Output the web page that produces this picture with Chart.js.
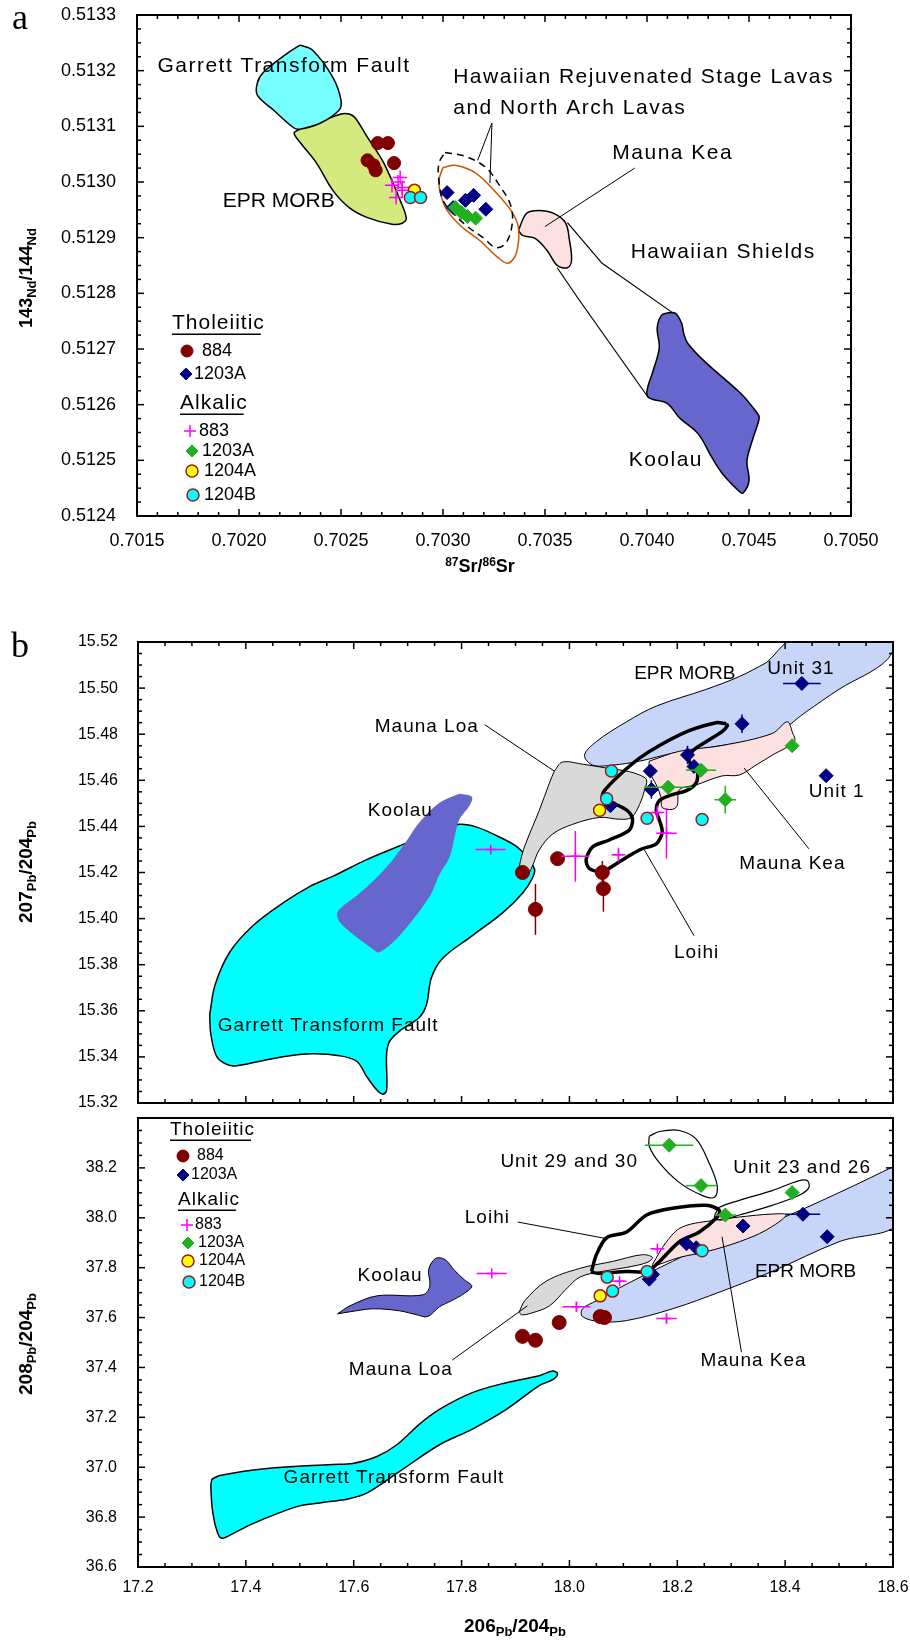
<!DOCTYPE html>
<html>
<head>
<meta charset="utf-8">
<script src="https://cdn.jsdelivr.net/npm/chart.js@4.4.1/dist/chart.umd.min.js"></script>
<style>
  body { margin: 0; background: #fff; }
  #wrap { position: relative; width: 910px; height: 1640px; font-family: 'Liberation Sans', Arial, sans-serif; }
  canvas { position: absolute; left: 0; }
  .pl { position: absolute; font-family: 'Liberation Serif', serif; font-size: 36px; line-height: 36px; }
  .ttl { position: absolute; font-weight: bold; font-size: 18px; white-space: nowrap; transform: translate(-50%, -50%); }
  .ttl.v { transform: translate(-50%, -50%) rotate(-90deg); }
  .ttl .lo { font-size: 13px; position: relative; top: 4px; }
  .ttl .hi { font-size: 12px; position: relative; top: -6px; }
</style>
</head>
<body>
<div id="wrap">
  <canvas id="cA" width="910" height="580" style="top:0"></canvas>
  <canvas id="cB1" width="910" height="511" style="top:600px"></canvas>
  <canvas id="cB2" width="910" height="530" style="top:1110px"></canvas>
  <div class="pl" style="left:12px;top:-1px">a</div>
  <div class="pl" style="left:11px;top:627px">b</div>
  <div class="ttl v" style="left:26px;top:278px">143<span class="lo">Nd</span>/144<span class="lo">Nd</span></div>
  <div class="ttl" style="left:480px;top:566px"><span class="hi">87</span>Sr/<span class="hi">86</span>Sr</div>
  <div class="ttl v" style="left:26px;top:872px;font-size:19px">207<span class="lo">Pb</span>/204<span class="lo">Pb</span></div>
  <div class="ttl v" style="left:26px;top:1344px;font-size:19px">208<span class="lo">Pb</span>/204<span class="lo">Pb</span></div>
  <div class="ttl" style="left:515px;top:1626px;font-size:19px">206<span class="lo">Pb</span>/204<span class="lo">Pb</span></div>
</div>
<script>
// ---------- panel a : 143Nd/144Nd vs 87Sr/86Sr ----------
const aEpr = [[0.70230,0.513095],[0.70250,0.513122],[0.70254,0.513122],[0.70257,0.513115],[0.70263,0.513080],[0.70271,0.513034],[0.70279,0.512967],[0.70282,0.512935],[0.70280,0.512926],[0.70275,0.512924],[0.70263,0.512936],[0.70254,0.512954],[0.70246,0.512985],[0.70238,0.513034],[0.70230,0.513071],[0.70227,0.513088]];
const aGarrett = [[0.70230,0.513246],[0.70236,0.513237],[0.70246,0.513188],[0.70250,0.513147],[0.70249,0.513129],[0.70240,0.513106],[0.70230,0.513095],[0.70227,0.513097],[0.70217,0.513129],[0.70209,0.513156],[0.70209,0.513178],[0.70212,0.513197],[0.70224,0.513232]];
const aRejuv = [[0.70300,0.513026],[0.70306,0.513030],[0.70316,0.513016],[0.70326,0.512981],[0.70334,0.512945],[0.70337,0.512917],[0.70336,0.512873],[0.70332,0.512854],[0.70327,0.512864],[0.70318,0.512895],[0.70309,0.512920],[0.70302,0.512949],[0.70299,0.512976],[0.70298,0.513003]];
const aNorthArch = [[0.70301,0.513053],[0.70311,0.513046],[0.70321,0.513026],[0.70328,0.512992],[0.70333,0.512960],[0.70334,0.512927],[0.70331,0.512891],[0.70326,0.512882],[0.70320,0.512899],[0.70312,0.512920],[0.70305,0.512944],[0.70300,0.512967],[0.70298,0.513003],[0.70298,0.513034]];
const aMaunaKea = [[0.70337,0.512913],[0.70341,0.512944],[0.70347,0.512949],[0.70354,0.512944],[0.70360,0.512927],[0.70362,0.512895],[0.70363,0.512859],[0.70361,0.512846],[0.70356,0.512850],[0.70351,0.512877],[0.70345,0.512899],[0.70339,0.512904]];
const aShieldR = [[0.70361,0.512927],[0.70378,0.512854],[0.70413,0.512764]];
const aShieldL = [[0.70356,0.512846],[0.70366,0.512792],[0.70400,0.512616]];
const aKoolau = [[0.70410,0.512765],[0.70414,0.512764],[0.70417,0.512746],[0.70418,0.512728],[0.70420,0.512710],[0.70429,0.512675],[0.70446,0.512620],[0.70454,0.512585],[0.70455,0.512576],[0.70452,0.512540],[0.70449,0.512499],[0.70450,0.512463],[0.70447,0.512441],[0.70445,0.512445],[0.70437,0.512476],[0.70432,0.512504],[0.70425,0.512548],[0.70416,0.512576],[0.70410,0.512602],[0.70401,0.512612],[0.70400,0.512625],[0.70403,0.512661],[0.70406,0.512702],[0.70405,0.512738],[0.70407,0.512760]];
const aLeadRejuv1 = [[0.70324,0.513106],[0.70317,0.513039]];
const aLeadRejuv2 = [[0.70324,0.513106],[0.70323,0.512998]];
const aLeadKea = [[0.70394,0.513025],[0.70350,0.512920]];

const a884 = [[0.70263,0.513039],[0.70266,0.513030],[0.70267,0.513021],[0.70276,0.513034],[0.70268,0.513070],[0.70273,0.513070]];
const a884Err = [[0,0],[0,0],[0,0],[0,0],[0,0],[0,0.000008]];
const a1203T = [[0.70302,0.512981],[0.70305,0.512954],[0.70311,0.512967],[0.70315,0.512976],[0.70321,0.512951]];
const a883 = [[0.70275,0.512994],[0.70278,0.513000],[0.70280,0.512990],[0.70279,0.513008],[0.70277,0.512972],[0.70280,0.512985]];
const a1203Alk = [[0.70306,0.512954],[0.70309,0.512945],[0.70312,0.512938],[0.70316,0.512935]];
const a1204A = [[0.70286,0.512985]];
const a1204B = [[0.70284,0.512972],[0.70289,0.512972]];

const aNotes = [['Garrett Transform Fault',0.70160,0.513208],['EPR MORB',0.70192,0.512965],['Hawaiian Rejuvenated Stage Lavas',0.70305,0.513188],['and North Arch Lavas',0.70305,0.513133],['Mauna Kea',0.70383,0.513052],['Hawaiian Shields',0.70392,0.512873],['Koolau',0.70391,0.512501]];

// ---------- panel b, upper : 207Pb/204Pb vs 206Pb/204Pb ----------
const bGarrettU = [[17.333,15.3585],[17.343,15.3713],[17.370,15.3854],[17.413,15.3969],[17.469,15.4068],[17.519,15.4140],[17.561,15.4183],[17.624,15.4256],[17.694,15.4324],[17.759,15.4384],[17.796,15.4409],[17.828,15.4397],[17.870,15.4354],[17.907,15.4303],[17.935,15.4217],[17.931,15.4174],[17.913,15.4110],[17.876,15.4025],[17.820,15.3926],[17.765,15.3828],[17.744,15.3743],[17.735,15.3627],[17.722,15.3572],[17.685,15.3512],[17.667,15.3469],[17.661,15.3414],[17.661,15.3256],[17.654,15.3238],[17.643,15.3256],[17.624,15.3315],[17.606,15.3380],[17.574,15.3405],[17.524,15.3414],[17.469,15.3401],[17.383,15.3362],[17.365,15.3367],[17.346,15.3401],[17.335,15.3499]];
const bKoolauU = [[17.796,15.4542],[17.819,15.4529],[17.815,15.4491],[17.796,15.4431],[17.787,15.4354],[17.778,15.4268],[17.759,15.4191],[17.741,15.4097],[17.685,15.3926],[17.648,15.3854],[17.639,15.3862],[17.580,15.3969],[17.569,15.4012],[17.574,15.4042],[17.611,15.4110],[17.657,15.4213],[17.694,15.4324],[17.722,15.4418],[17.759,15.4503]];
const bLoaU = [[17.972,15.4640],[17.987,15.4679],[18.024,15.4670],[18.069,15.4653],[18.106,15.4640],[18.130,15.4623],[18.143,15.4602],[18.139,15.4555],[18.130,15.4495],[18.115,15.4439],[18.093,15.4431],[18.056,15.4439],[18.006,15.4409],[17.969,15.4367],[17.944,15.4298],[17.931,15.4226],[17.920,15.4183],[17.907,15.4191],[17.911,15.4268],[17.920,15.4332],[17.944,15.4469],[17.963,15.4589]];
const bEprU = [[18.365,15.5110],[18.426,15.5230],[18.600,15.5230],[18.589,15.5123],[18.500,15.4995],[18.439,15.4897],[18.376,15.4794],[18.283,15.4751],[18.191,15.4717],[18.130,15.4683],[18.080,15.4666],[18.043,15.4666],[18.028,15.4709],[18.050,15.4768],[18.106,15.4854],[18.161,15.4922],[18.254,15.4995],[18.315,15.5050]];
const bKeaU = [[18.148,15.4683],[18.204,15.4726],[18.283,15.4751],[18.376,15.4803],[18.404,15.4854],[18.413,15.4811],[18.417,15.4768],[18.376,15.4709],[18.346,15.4666],[18.315,15.4623],[18.283,15.4619],[18.235,15.4580],[18.204,15.4559],[18.200,15.4491],[18.191,15.4474],[18.172,15.4482],[18.170,15.4525],[18.161,15.4580],[18.148,15.4640]];
const bLoihiU = [[18.291,15.4845],[18.272,15.4850],[18.222,15.4815],[18.167,15.4751],[18.130,15.4696],[18.093,15.4623],[18.065,15.4555],[18.061,15.4525],[18.080,15.4503],[18.107,15.4469],[18.117,15.4431],[18.111,15.4384],[18.074,15.4341],[18.043,15.4311],[18.031,15.4256],[18.037,15.4217],[18.061,15.4204],[18.087,15.4238],[18.117,15.4281],[18.135,15.4303],[18.161,15.4324],[18.172,15.4375],[18.167,15.4426],[18.161,15.4469],[18.167,15.4512],[18.191,15.4538],[18.217,15.4555],[18.235,15.4589],[18.237,15.4640],[18.222,15.4683],[18.228,15.4726],[18.254,15.4768],[18.283,15.4811],[18.293,15.4837]];
const bLeadLoaU = [[17.843,15.4841],[17.972,15.4640]];
const bLeadKeaU = [[18.444,15.4303],[18.324,15.4653]];
const bLeadLoihiU = [[18.139,15.4298],[18.231,15.3926]];

const bU884 = [[17.913,15.420],[17.978,15.426],[18.061,15.420],[18.063,15.413],[17.937,15.404]];
const bU884Err = [[0,0],[0,0],[0,0.005],[0,0.010],[0,0.011]];
const bU1203T = [[18.431,15.502],[18.320,15.4845],[18.219,15.471],[18.231,15.466],[18.150,15.464],[18.152,15.456],[18.076,15.449],[18.476,15.462]];
const bU1203TErr = [[0.035,0],[0,0.004],[0,0.004],[0,0],[0,0],[0,0.004],[0,0],[0.01,0]];
const bU883 = [[17.854,15.430],[18.011,15.427],[18.091,15.4277],[18.163,15.446],[18.180,15.437]];
const bU883Err = [[0.028,0.001],[0.026,0.011],[0.013,0.003],[0.013,0.003],[0.019,0.011]];
const bU1203Alk = [[18.413,15.475],[18.244,15.4644],[18.183,15.457],[18.289,15.4516]];
const bU1203AlkErr = [[0,0],[0.028,0],[0.045,0],[0.02,0.006]];
const bU1204A = [[18.056,15.447]];
const bU1204B = [[18.078,15.464],[18.069,15.452],[18.144,15.4435],[18.246,15.443]];

const bUNotes = [['Mauna Loa',17.639,15.4832],['Koolau',17.626,15.4469],['Garrett Transform Fault',17.348,15.3533],['EPR MORB',18.120,15.5063],['Unit 31',18.367,15.5085],['Unit 1',18.444,15.455],['Mauna Kea',18.315,15.4238],['Loihi',18.194,15.385]];

// ---------- panel b, lower : 208Pb/204Pb vs 206Pb/204Pb ----------
const bGarrettL = [[17.337,36.952],[17.352,36.967],[17.439,36.995],[17.561,37.011],[17.598,37.015],[17.643,37.043],[17.680,37.090],[17.722,37.173],[17.759,37.232],[17.820,37.299],[17.883,37.339],[17.944,37.367],[17.969,37.386],[17.978,37.374],[17.969,37.351],[17.944,37.327],[17.883,37.232],[17.820,37.153],[17.759,37.090],[17.685,36.983],[17.624,36.896],[17.589,36.873],[17.537,36.857],[17.500,36.845],[17.457,36.813],[17.413,36.774],[17.376,36.734],[17.356,36.715],[17.348,36.734],[17.339,36.813],[17.335,36.924]];
const bKoolauL = [[17.570,37.615],[17.593,37.647],[17.643,37.687],[17.728,37.691],[17.741,37.726],[17.739,37.793],[17.752,37.837],[17.769,37.833],[17.787,37.789],[17.806,37.750],[17.819,37.726],[17.806,37.698],[17.781,37.667],[17.759,37.643],[17.737,37.604],[17.717,37.611],[17.685,37.627],[17.635,37.635],[17.593,37.623]];
const bLoaL = [[17.907,37.623],[17.917,37.667],[17.957,37.746],[18.019,37.797],[18.080,37.825],[18.135,37.852],[18.154,37.841],[18.144,37.821],[18.106,37.801],[18.061,37.785],[18.019,37.762],[17.994,37.714],[17.963,37.647],[17.931,37.619],[17.911,37.611]];
const bEprL = [[18.611,38.216],[18.611,37.979],[18.500,37.904],[18.376,37.785],[18.283,37.706],[18.191,37.635],[18.106,37.588],[18.056,37.584],[18.024,37.604],[18.024,37.635],[18.050,37.667],[18.106,37.734],[18.191,37.825],[18.283,37.920],[18.376,37.983],[18.500,38.101]];
const bKeaL = [[18.154,37.813],[18.180,37.904],[18.209,37.963],[18.272,37.991],[18.315,38.003],[18.376,38.015],[18.402,38.011],[18.365,37.951],[18.315,37.904],[18.254,37.864],[18.204,37.841],[18.154,37.805]];
const bLoihiL = [[18.041,37.785],[18.050,37.852],[18.069,37.920],[18.106,37.943],[18.143,38.011],[18.191,38.038],[18.254,38.050],[18.278,38.030],[18.274,38.003],[18.241,37.943],[18.204,37.904],[18.167,37.825],[18.144,37.785],[18.106,37.785],[18.056,37.777],[18.043,37.781]];
const bUnit2930 = [[18.148,38.327],[18.167,38.346],[18.204,38.350],[18.235,38.315],[18.259,38.220],[18.274,38.129],[18.269,38.082],[18.246,38.090],[18.204,38.141],[18.167,38.220],[18.148,38.287]];
const bUnit2326 = [[18.272,38.022],[18.278,38.042],[18.315,38.070],[18.376,38.109],[18.426,38.149],[18.441,38.149],[18.444,38.121],[18.426,38.090],[18.376,38.050],[18.315,38.011],[18.281,37.991],[18.269,38.003]];
const bLeadLoaL = [[17.783,37.430],[17.922,37.647]];
const bLeadKeaL = [[18.319,37.461],[18.283,37.924]];
const bLeadLoihiL = [[17.904,37.983],[18.070,37.916]];

const bL884 = [[17.913,37.5245],[17.937,37.509],[17.981,37.580],[18.057,37.604],[18.065,37.600]];
const bL884Err = [[0,0],[0.01,0],[0,0],[0,0],[0,0.012]];
const bL1203T = [[18.148,37.754],[18.154,37.773],[18.217,37.896],[18.235,37.880],[18.322,37.967],[18.433,38.014],[18.478,37.924]];
const bL1203TErr = [[0,0],[0,0],[0,0],[0,0],[0,0],[0.032,0],[0,0]];
const bL883 = [[17.856,37.777],[18.013,37.643],[18.093,37.746],[18.163,37.876],[18.180,37.596]];
const bL883Err = [[0.028,0.005],[0.026,0.02],[0.013,0.005],[0.013,0.005],[0.019,0.02]];
const bL1203Alk = [[18.185,38.291],[18.244,38.129],[18.413,38.101],[18.289,38.011]];
const bL1203AlkErr = [[0.045,0],[0.028,0],[0,0],[0.02,0]];
const bL1204A = [[18.057,37.687]];
const bL1204B = [[18.070,37.762],[18.080,37.706],[18.144,37.785],[18.246,37.868]];

const bLNotes = [['Koolau',17.607,37.766],['Mauna Loa',17.591,37.390],['Garrett Transform Fault',17.470,36.956],['EPR MORB',18.344,37.785],['Mauna Kea',18.243,37.426],['Loihi',17.806,37.999],['Unit 29 and 30',17.872,38.224],['Unit 23 and 26',18.304,38.200]];

// ---------- styles ----------
Chart.defaults.font.family = "'Liberation Sans', Arial, sans-serif";
Chart.defaults.color = '#000';

const MK = {
  s884:  { style: 'circle',  r: 6.5, bg: '#800000', line: '#800000', bw: 1 },
  s1203T:{ style: 'rectRot', r: 7,   bg: '#000080', line: '#000080', bw: 1 },
  s883:  { style: 'cross',   r: 7,   bg: '#ff00ff', line: '#ff00ff', bw: 1.5 },
  s1203A:{ style: 'rectRot', r: 7,   bg: '#22b022', line: '#22b022', bw: 1 },
  s1204A:{ style: 'circle',  r: 6,   bg: '#ffff00', line: '#9b1b1b', bw: 1.5 },
  s1204B:{ style: 'circle',  r: 6,   bg: '#00ffff', line: '#9b1b1b', bw: 1.5 }
};

const xy = (arr, closed) => {
  const p = arr.map(([x, y]) => ({ x, y }));
  if (closed) p.push({ ...p[0] });
  return p;
};

function field(arr, o) {
  return {
    data: xy(arr, o.closed !== false), showLine: true, pointRadius: 0, pointHoverRadius: 0,
    tension: o.t ?? 0.35, fill: o.fill ? 'shape' : false,
    backgroundColor: o.fill || 'rgba(0,0,0,0)', borderColor: o.line || 'rgba(0,0,0,0)',
    borderWidth: o.w ?? 1.5, borderDash: o.dash || [], borderJoinStyle: 'round', order: o.order
  };
}
const lead = arr => field(arr, { closed: false, line: '#000', w: 1, t: 0, order: 12 });

function series(arr, m, order, err, r) {
  return {
    data: xy(arr), showLine: false, pointStyle: m.style, pointRadius: r || m.r, pointHoverRadius: r || m.r,
    pointBackgroundColor: m.bg, pointBorderColor: m.line, pointBorderWidth: m.bw,
    borderColor: m.line, order, err
  };
}

// error bars, drawn right under each marker set
const errBars = {
  id: 'errBars',
  beforeDatasetDraw(chart, args) {
    const ds = chart.data.datasets[args.index];
    if (!ds.err) return;
    const { ctx, scales: { x, y } } = chart;
    ctx.save();
    ctx.strokeStyle = ds.borderColor; ctx.lineWidth = 1.5;
    ds.data.forEach((p, i) => {
      const [ex, ey] = ds.err[i];
      const px = x.getPixelForValue(p.x), py = y.getPixelForValue(p.y);
      ctx.beginPath();
      if (ex) { ctx.moveTo(x.getPixelForValue(p.x - ex), py); ctx.lineTo(x.getPixelForValue(p.x + ex), py); }
      if (ey) { ctx.moveTo(px, y.getPixelForValue(p.y - ey)); ctx.lineTo(px, y.getPixelForValue(p.y + ey)); }
      ctx.stroke();
    });
    ctx.restore();
  }
};

// field names, anchored at data coordinates (left / middle)
const notes = (items, size, sp) => ({
  id: 'notes',
  afterDatasetsDraw(chart) {
    const { ctx, scales: { x, y } } = chart;
    ctx.save();
    ctx.fillStyle = '#000'; ctx.textBaseline = 'middle'; ctx.textAlign = 'left';
    ctx.font = size + "px 'Liberation Sans', Arial, sans-serif";
    items.forEach(([t, vx, vy]) => {
      ctx.letterSpacing = t === 'EPR MORB' ? '0px' : sp;
      ctx.fillText(t, x.getPixelForValue(vx), y.getPixelForValue(vy));
    });
    ctx.restore();
  }
});

// in-plot key (canvas pixels)
const keyBox = (k) => ({
  id: 'keyBox',
  afterDatasetsDraw(chart) {
    const ctx = chart.ctx;
    ctx.save();
    ctx.fillStyle = '#000'; ctx.textBaseline = 'middle'; ctx.textAlign = 'left';
    [['Tholeiitic', k.head[0]], ['Alkalic', k.head[1]]].forEach(([t, [hx, hy]]) => {
      ctx.font = k.headSize + "px 'Liberation Sans', Arial, sans-serif";
      ctx.letterSpacing = '1px';
      ctx.fillStyle = '#000';
      ctx.fillText(t, hx, hy);
      const w = ctx.measureText(t).width;
      ctx.fillRect(hx, hy + k.headSize * 0.5, w - 4, 1.5);
    });
    ctx.letterSpacing = '0px';
    ctx.font = k.size + "px 'Liberation Sans', Arial, sans-serif";
    k.items.forEach(([m, t, mx, my, tx]) => {
      ctx.fillStyle = m.bg; ctx.strokeStyle = m.line; ctx.lineWidth = m.bw;
      Chart.helpers.drawPoint(ctx, { pointStyle: m.style, radius: k.r, borderWidth: m.bw, rotation: 0 }, mx, my);
      ctx.fillStyle = '#000';
      ctx.fillText(t, tx, my);
    });
    ctx.restore();
  }
});

// frame with inward major / minor ticks on every side
function tickList(scale, n) {
  const t = scale.ticks.map(v => v.value), out = [];
  t.forEach((v, i) => {
    out.push([v, true]);
    if (i < t.length - 1) for (let k = 1; k < n; k++) out.push([v + (t[i + 1] - v) * k / n, false]);
  });
  return out;
}
const frame = (o) => ({
  id: 'frame',
  afterDatasetsDraw(chart) {
    const { ctx, chartArea: a, scales: { x, y } } = chart;
    ctx.save();
    ctx.strokeStyle = '#000'; ctx.lineWidth = 1.5;
    const seg = (x1, y1, x2, y2) => { ctx.beginPath(); ctx.moveTo(x1, y1); ctx.lineTo(x2, y2); ctx.stroke(); };
    tickList(x, o.xMinor).forEach(([v, maj]) => {
      const p = x.getPixelForValue(v), L = maj ? 7 : 4;
      if (o.bottom) seg(p, a.bottom, p, a.bottom - L);
      if (o.top) seg(p, a.top, p, a.top + L);
    });
    tickList(y, o.yMinor).forEach(([v, maj]) => {
      const p = y.getPixelForValue(v), L = maj ? 7 : 4;
      seg(a.left, p, a.left + L, p);
      seg(a.right, p, a.right - L, p);
    });
    ctx.lineWidth = 2;
    ctx.strokeRect(a.left, a.top, a.right - a.left, a.bottom - a.top);
    ctx.restore();
  }
});

function makeChart(id, o) {
  return new Chart(document.getElementById(id), {
    type: 'scatter',
    data: { datasets: o.datasets },
    options: {
      responsive: false, animation: false, events: [],
      layout: { padding: o.pad },
      plugins: { legend: { display: false }, tooltip: { enabled: false } },
      scales: {
        x: {
          type: 'linear', min: o.x[0], max: o.x[1], display: o.xShow,
          grid: { display: false, drawTicks: false }, border: { display: false },
          ticks: { stepSize: o.x[2], padding: o.xPad, maxRotation: 0, autoSkip: false, color: '#000',
                   font: { size: o.tick }, callback: v => v.toFixed(o.x[3]) },
          afterFit: s => { s.height = o.xH; s.paddingLeft = 0; s.paddingRight = 0; }
        },
        y: {
          type: 'linear', min: o.y[0], max: o.y[1],
          grid: { display: false, drawTicks: false }, border: { display: false },
          ticks: { stepSize: o.y[2], padding: o.yPad, autoSkip: false, color: '#000',
                   font: { size: o.tick }, callback: v => (o.yHideAbove && v > o.yHideAbove) ? '' : v.toFixed(o.y[3]) },
          afterFit: s => { s.width = o.yW; s.paddingTop = 0; s.paddingBottom = 0; }
        }
      }
    },
    plugins: [errBars, notes(o.notes, o.noteSize, o.noteSp), ...(o.key ? [keyBox(o.key)] : []), frame(o.frame)]
  });
}

// ---------- panel a ----------
makeChart('cA', {
  x: [0.7015, 0.7050, 0.0005, 4], y: [0.5124, 0.5133, 0.0001, 4],
  xShow: true, xH: 64, yW: 137, xPad: 14, yPad: 21, tick: 18,
  pad: { left: 0, top: 15, right: 59, bottom: 0 },
  frame: { top: true, bottom: true, xMinor: 5, yMinor: 4 },
  notes: aNotes, noteSize: 21, noteSp: '1.5px',
  key: {
    head: [[172, 323], [180, 403]], headSize: 21, size: 18, r: 6,
    items: [[MK.s884, '884', 187, 351, 202], [MK.s1203T, '1203A', 186, 374, 194], [MK.s883, '883', 190, 431, 199],
            [MK.s1203A, '1203A', 192, 451, 202], [MK.s1204A, '1204A', 192, 471, 204], [MK.s1204B, '1204B', 193, 495, 204]]
  },
  datasets: [
    series(a1204B, MK.s1204B, 1), series(a1204A, MK.s1204A, 2), series(a1203Alk, MK.s1203A, 3),
    series(a883, MK.s883, 4), series(a1203T, MK.s1203T, 5), series(a884, MK.s884, 6, a884Err),
    lead(aLeadRejuv1), lead(aLeadRejuv2), lead(aLeadKea),
    field(aNorthArch, { line: '#000', w: 1.5, dash: [7, 5], order: 14 }),
    field(aRejuv, { line: '#cc5500', w: 1.5, order: 15 }),
    field(aShieldR, { closed: false, line: '#000', w: 1.2, t: 0, order: 16 }),
    field(aShieldL, { closed: false, line: '#000', w: 1.2, t: 0, order: 16 }),
    field(aMaunaKea, { fill: '#fde0e0', line: '#000', w: 1.5, order: 17 }),
    field(aKoolau, { fill: '#6666cc', line: '#000', w: 1.5, order: 18 }),
    field(aGarrett, { fill: '#77ffff', line: '#000', w: 1.5, order: 19 }),
    field(aEpr, { fill: '#d5ea7e', line: '#000', w: 1.5, order: 20 })
  ]
});

// ---------- panel b, upper ----------
makeChart('cB1', {
  x: [17.2, 18.6, 0.2, 1], y: [15.32, 15.52, 0.02, 2],
  xShow: false, xH: 0, yW: 138, xPad: 0, yPad: 20, tick: 16,
  pad: { left: 0, top: 42, right: 17, bottom: 1 },
  frame: { top: true, bottom: true, xMinor: 4, yMinor: 4 },
  notes: bUNotes, noteSize: 19, noteSp: '1px',
  datasets: [
    series(bU1204B, MK.s1204B, 1), series(bU1204A, MK.s1204A, 2), series(bU1203Alk, MK.s1203A, 3, bU1203AlkErr),
    series(bU883, MK.s883, 4, bU883Err, 5), series(bU1203T, MK.s1203T, 5, bU1203TErr), series(bU884, MK.s884, 6, bU884Err, 7),
    lead(bLeadLoaU), lead(bLeadKeaU), lead(bLeadLoihiU),
    field(bLoihiU, { line: '#000', w: 3.5, t: 0.3, order: 14 }),
    field(bLoaU, { fill: '#d9d9d9', line: '#000', w: 1, order: 16 }),
    field(bKeaU, { fill: '#fde0e0', line: '#000', w: 1, order: 17 }),
    field(bEprU, { fill: '#c6d5f8', line: '#000', w: 1, order: 18 }),
    field(bKoolauU, { fill: '#6666cc', w: 0, order: 19 }),
    field(bGarrettU, { fill: '#00ffff', line: '#000', w: 1.5, order: 20 })
  ]
});

// ---------- panel b, lower ----------
makeChart('cB2', {
  x: [17.2, 18.6, 0.2, 1], y: [36.6, 38.4, 0.2, 1], yHideAbove: 38.3,
  xShow: true, xH: 73, yW: 138, xPad: 11, yPad: 21, tick: 16,
  pad: { left: 0, top: 0, right: 17, bottom: 0 },
  frame: { top: false, bottom: true, xMinor: 4, yMinor: 4 },
  notes: bLNotes, noteSize: 19, noteSp: '1px',
  key: {
    head: [[170, 20], [178, 90]], headSize: 19, size: 16, r: 6,
    items: [[MK.s884, '884', 183, 46, 197], [MK.s1203T, '1203A', 183, 65, 191], [MK.s883, '883', 187, 115, 195],
            [MK.s1203A, '1203A', 188, 133, 198], [MK.s1204A, '1204A', 188, 151, 199], [MK.s1204B, '1204B', 189, 172, 199]]
  },
  datasets: [
    series(bL1204B, MK.s1204B, 1), series(bL1204A, MK.s1204A, 2), series(bL1203Alk, MK.s1203A, 3, bL1203AlkErr),
    series(bL883, MK.s883, 4, bL883Err, 5), series(bL1203T, MK.s1203T, 5, bL1203TErr), series(bL884, MK.s884, 6, bL884Err, 7),
    lead(bLeadLoaL), lead(bLeadKeaL), lead(bLeadLoihiL),
    field(bLoihiL, { line: '#000', w: 3.5, t: 0.3, order: 14 }),
    field(bUnit2930, { line: '#000', w: 1.2, order: 14 }),
    field(bUnit2326, { line: '#000', w: 1.2, order: 14 }),
    field(bKeaL, { fill: '#fde0e0', line: '#000', w: 1, order: 16 }),
    field(bLoaL, { fill: '#d9d9d9', line: '#000', w: 1, order: 17 }),
    field(bEprL, { fill: '#c6d5f8', line: '#000', w: 1, order: 18 }),
    field(bKoolauL, { fill: '#6666cc', line: '#000', w: 1, order: 19 }),
    field(bGarrettL, { fill: '#00ffff', line: '#000', w: 1.5, order: 20 })
  ]
});
</script>
</body>
</html>
